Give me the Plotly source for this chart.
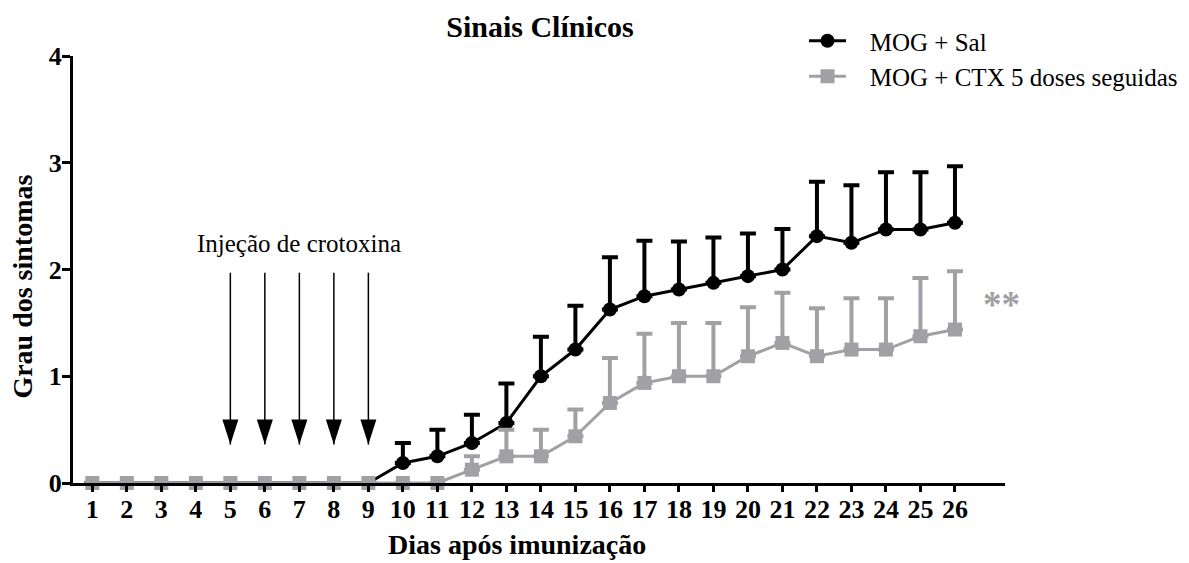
import plotly.graph_objects as go

# Days after immunization
days = list(range(1, 27))

# MOG + Sal: mean clinical score and upper SEM
sal_mean = [0, 0, 0, 0, 0, 0, 0, 0, 0,
            0.1875, 0.25, 0.375, 0.5625, 1.0, 1.25, 1.625, 1.75, 1.8125,
            1.875, 1.9375, 2.0, 2.3125, 2.25, 2.375, 2.375, 2.4375]
sal_err = [None] * 9 + [0.1875, 0.25, 0.265, 0.37, 0.37, 0.41, 0.49, 0.52, 0.45,
                        0.425, 0.40, 0.38, 0.51, 0.54, 0.535, 0.535, 0.53]

# MOG + CTX 5 consecutive doses: mean clinical score and upper SEM
ctx_mean = [0] * 11 + [0.125, 0.25, 0.25, 0.4375, 0.75, 0.9375, 1.0, 1.0,
                       1.1875, 1.3125, 1.1875, 1.25, 1.25, 1.375, 1.4375]
ctx_err = [None] * 11 + [0.125, 0.25, 0.25, 0.25, 0.42, 0.46, 0.5, 0.5,
                         0.46, 0.47, 0.45, 0.48, 0.48, 0.545, 0.545]

# Crotoxin injection days (arrows)
injection_days = [5, 6, 7, 8, 9]
arrow_top = 1.97
arrow_tip = 0.36

GRAY = "#a1a1a5"
SERIF = "Liberation Serif"
GAP = "\u00a0\u00a0\u00a0"  # extra room between legend symbol and label

fig = go.Figure()

fig.add_trace(go.Scatter(
    x=days, y=sal_mean, name=GAP + "MOG + Sal", mode="lines+markers",
    line=dict(color="black", width=3),
    marker=dict(symbol="circle", size=14, color="black"),
    error_y=dict(type="data", array=sal_err, symmetric=False,
                 arrayminus=[0] * len(days), color="black", thickness=4, width=8),
    cliponaxis=False,
))

fig.add_trace(go.Scatter(
    x=days, y=ctx_mean, name=GAP + "MOG + CTX 5 doses seguidas", mode="lines+markers",
    line=dict(color=GRAY, width=3),
    marker=dict(symbol="square", size=14, color=GRAY),
    error_y=dict(type="data", array=ctx_err, symmetric=False,
                 arrayminus=[0] * len(days), color=GRAY, thickness=4, width=8),
    cliponaxis=False,
))

shapes = []
for d in injection_days:
    shapes.append(dict(type="line", xref="x", yref="y", x0=d, x1=d,
                       y0=arrow_top, y1=arrow_tip,
                       line=dict(color="black", width=1.5)))
    shapes.append(dict(type="path", xref="x", yref="y",
                       xsizemode="pixel", ysizemode="pixel",
                       xanchor=d, yanchor=arrow_tip,
                       path="M-8,25 L8,25 L0,0 Z",
                       fillcolor="black", line=dict(color="black", width=0)))

annotations = [
    dict(text="Injeção de crotoxina", x=7, y=2.24, xref="x", yref="y",
         showarrow=False, xanchor="center", yanchor="middle",
         font=dict(family=SERIF, size=25, color="black")),
    dict(text="**", x=27.35, y=1.67, xref="x", yref="y",
         showarrow=False, xanchor="center", yanchor="middle",
         font=dict(family=SERIF, size=37, color=GRAY, weight="bold")),
    dict(text="Dias após imunização", x=0.476, y=-0.1445, xref="paper", yref="paper",
         showarrow=False, xanchor="center", yanchor="middle",
         font=dict(family=SERIF, size=28, color="black", weight="bold")),
    dict(text="Grau dos sintomas", x=-0.0536, y=0.46, xref="paper", yref="paper",
         showarrow=False, xanchor="center", yanchor="middle", textangle=-90,
         font=dict(family=SERIF, size=28, color="black", weight="bold")),
]

fig.update_layout(
    width=1189, height=563,
    margin=dict(l=73, r=184, t=56, b=80, autoexpand=False),
    paper_bgcolor="white", plot_bgcolor="white",
    title=dict(text="Sinais Clínicos", xref="container", yref="container",
               x=540 / 1189, y=1 - 26 / 563, xanchor="center", yanchor="middle",
               font=dict(family=SERIF, size=30, color="black", weight="bold")),
    showlegend=True,
    legend=dict(xref="container", yref="container", x=804 / 1189, y=1 - 18 / 563,
                xanchor="left", yanchor="top", bgcolor="rgba(0,0,0,0)",
                itemwidth=37,
                font=dict(family=SERIF, size=25, color="black")),
    xaxis=dict(range=[0.44, 27.45], tickvals=days, ticks="outside", ticklen=6,
               tickwidth=2.5, tickcolor="black", showline=True, linewidth=3,
               linecolor="black", showgrid=False, zeroline=False, tickangle=0,
               ticklabelstandoff=-5,
               tickfont=dict(family=SERIF, size=26, color="black", weight="bold")),
    yaxis=dict(range=[0, 4], tickvals=[0, 1, 2, 3, 4], ticks="outside", ticklen=8,
               tickwidth=2.5, tickcolor="black", showline=True, linewidth=3,
               linecolor="black", showgrid=False, zeroline=False,
               ticklabelstandoff=-5,
               tickfont=dict(family=SERIF, size=26, color="black", weight="bold")),
    shapes=shapes,
    annotations=annotations,
)

fig.write_html("out.html")
